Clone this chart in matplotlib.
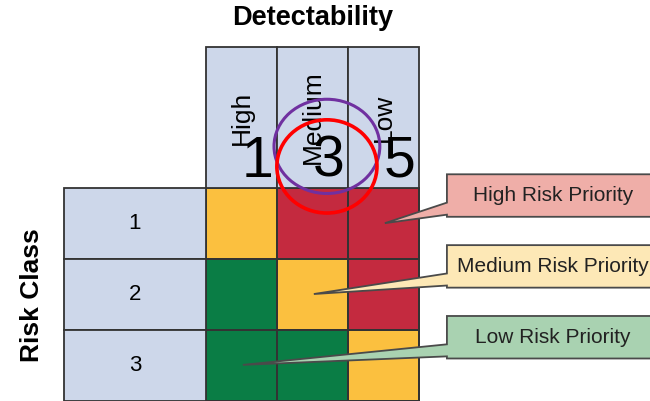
import matplotlib.pyplot as plt
import numpy as np
from matplotlib.colors import ListedColormap
from matplotlib.patches import Rectangle, Ellipse, Polygon

plt.rcParams['font.family'] = ['Liberation Sans', 'DejaVu Sans']

# data
detect_labels = ['High', 'Medium', 'Low']
detect_scores = [1, 3, 5]
risk_classes = ['1', '2', '3']
# 0 = low, 1 = medium, 2 = high priority
priority = np.array([[1, 2, 2],
                     [0, 1, 2],
                     [0, 0, 1]])
callout_labels = ['High Risk Priority', 'Medium Risk Priority', 'Low Risk Priority']
callout_cells = [(0, 2), (1, 1), (2, 0)]   # (row, col) each callout points at
callout_colors = ['#efaea8', '#fde8b6', '#a9d2b1']
cell_colors = ['#0a7d45', '#fbc03f', '#c42a3f']
header_color = '#cdd7ea'
edge = '#333333'

fig = plt.figure(figsize=(6.5, 4.01), dpi=100)
ax = fig.add_axes([0, 0, 1, 1])
ax.set_xlim(-2.90, 6.254)
ax.set_ylim(3.0, -2.66)
ax.axis('off')

# matrix cells
ax.pcolormesh(np.arange(4), np.arange(4), priority,
              cmap=ListedColormap(cell_colors), vmin=-0.5, vmax=2.5,
              edgecolors=edge, linewidth=1.3, zorder=1)

# column headers
for j, lab in enumerate(detect_labels):
    ax.add_patch(Rectangle((j, -2), 1, 2, facecolor=header_color,
                           edgecolor=edge, lw=1.3, zorder=1))
    ax.text(j + 0.5, -1.0, lab, rotation=90, ha='center', va='center',
            fontsize=19, zorder=3)
    ax.text(j + 0.73, -0.38, str(detect_scores[j]), ha='center', va='center',
            fontsize=41, zorder=3)

# row headers
for i, lab in enumerate(risk_classes):
    ax.add_patch(Rectangle((-2, i), 2, 1, facecolor=header_color,
                           edgecolor=edge, lw=1.3, zorder=1))
    ax.text(-1.0, i + 0.5, lab, ha='center', va='center', fontsize=16, zorder=3)

ax.text(1.5, -2.40, 'Detectability', ha='center', va='center',
        fontsize=19.5, fontweight='bold')
ax.text(-2.45, 1.5, 'Risk Class', rotation=90, ha='center', va='center',
        fontsize=19, fontweight='bold')

# callouts
box_left, box_right = 3.394, 7.0
for lab, (r, c), col in zip(callout_labels, callout_cells, callout_colors):
    top, bot = r - 0.2, r + 0.4
    tip = (c + 0.52, r + 0.49)
    verts = [(box_left, top), (box_right, top), (box_right, bot),
             (box_left, bot), (box_left, r + 0.37), tip,
             (box_left, r + 0.2)]
    ax.add_patch(Polygon(verts, closed=True, facecolor=col,
                         edgecolor='#4a4a4a', lw=1.3, zorder=4))
    ax.text(4.89, (top + bot) / 2, lab, ha='center', va='center',
            fontsize=15, color='#222222', zorder=5)

# highlight circles around the medium detectability score
ax.add_patch(Ellipse((1.704, -0.594), 1.49, 1.33, fill=False,
                     edgecolor='#7030a0', lw=2.2, zorder=6))
ax.add_patch(Ellipse((1.704, -0.311), 1.41, 1.316, fill=False,
                     edgecolor='#ff0000', lw=2.6, zorder=6))

fig.savefig('out.png', dpi=100)
